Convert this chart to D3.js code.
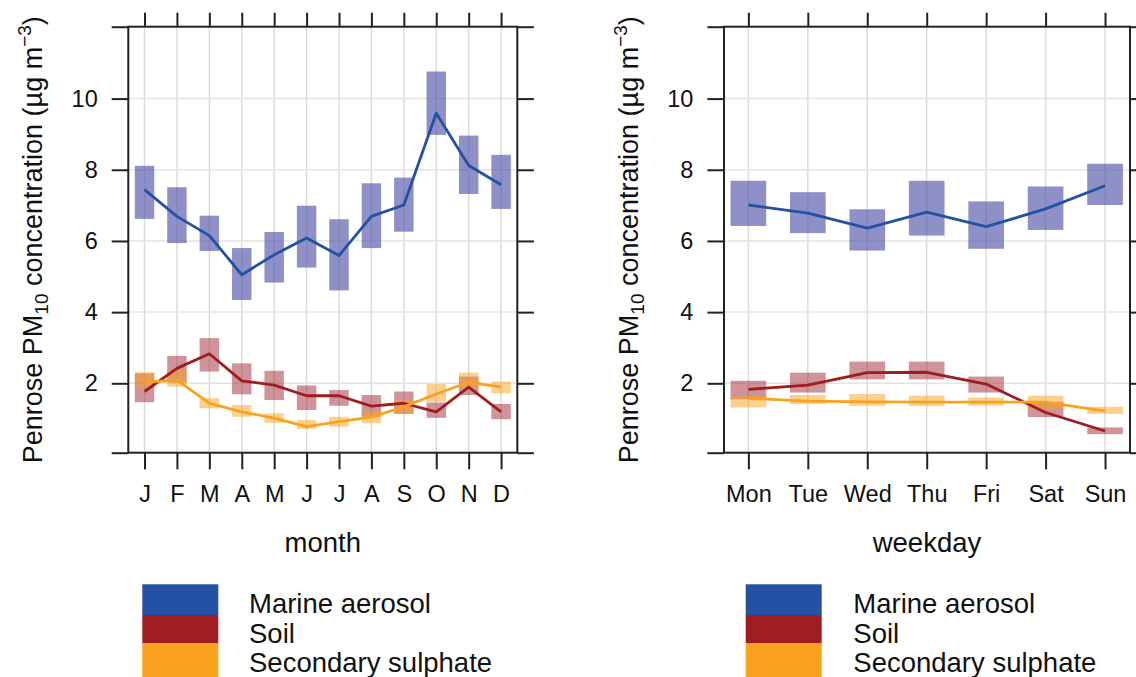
<!DOCTYPE html>
<html>
<head>
<meta charset="utf-8">
<script src="https://cdn.jsdelivr.net/npm/d3@7"></script>
<style>
  html, body { margin: 0; padding: 0; background: #fff; }
  svg { display: block; font-family: "Liberation Sans", Arial, sans-serif; }
</style>
</head>
<body>
<div id="chart"></div>
<script>
// categories
const months = ["J", "F", "M", "A", "M", "J", "J", "A", "S", "O", "N", "D"];
const weekdays = ["Mon", "Tue", "Wed", "Thu", "Fri", "Sat", "Sun"];
const seriesNames = ["Marine aerosol", "Soil", "Secondary sulphate"];
const yTicks = [2, 4, 6, 8, 10];

// [mean, lower, upper] per category
const marineMonth = [
  [7.44, 6.62, 8.11], [6.69, 5.94, 7.51], [6.15, 5.72, 6.71], [5.05, 4.34, 5.8],
  [5.61, 4.83, 6.25], [6.08, 5.25, 6.99], [5.59, 4.61, 6.61], [6.69, 5.8, 7.62],
  [7.01, 6.26, 7.78], [9.59, 8.98, 10.76], [8.12, 7.32, 8.96], [7.58, 6.9, 8.42],
];
const soilMonth = [
  [1.77, 1.47, 2.28], [2.42, 2.02, 2.77], [2.83, 2.33, 3.27], [2.07, 1.69, 2.56],
  [1.95, 1.53, 2.35], [1.65, 1.25, 1.94], [1.65, 1.37, 1.81], [1.36, 1.06, 1.67],
  [1.44, 1.14, 1.77], [1.2, 1.03, 1.46], [1.89, 1.67, 2.19], [1.2, 0.99, 1.42],
];
const sulphateMonth = [
  [2.03, 1.88, 2.31], [2.09, 1.91, 2.38], [1.44, 1.3, 1.58], [1.2, 1.06, 1.39],
  [1.02, 0.89, 1.16], [0.78, 0.72, 0.97], [0.92, 0.78, 1.06], [1.05, 0.88, 1.22],
  [1.34, 1.16, 1.53], [1.7, 1.48, 1.98], [2.03, 1.86, 2.3], [1.89, 1.72, 2.05],
];
const marineWeekday = [
  [7.01, 6.42, 7.69], [6.78, 6.22, 7.37], [6.36, 5.73, 6.89], [6.81, 6.15, 7.69],
  [6.4, 5.78, 7.11], [6.9, 6.31, 7.53], [7.55, 7.01, 8.17],
];
const soilWeekday = [
  [1.83, 1.55, 2.07], [1.95, 1.74, 2.3], [2.3, 2.11, 2.61], [2.31, 2.11, 2.61],
  [1.98, 1.74, 2.19], [1.18, 1.05, 1.48], [0.66, 0.57, 0.76],
];
const sulphateWeekday = [
  [1.58, 1.32, 1.64], [1.5, 1.42, 1.67], [1.48, 1.37, 1.7], [1.47, 1.36, 1.65],
  [1.47, 1.37, 1.6], [1.47, 1.25, 1.65], [1.22, 1.14, 1.34],
];

const lineColours = ["#2352a2", "#9f1c20", "#f9a21d"];
const legendColours = ["#2451a4", "#9f1c20", "#f9a21d"];
const boxColours = ["#5555aa", "#9f2a35", "#f9a21d"];
const boxOpacity = [0.65, 0.5, 0.5];

const width = 1136;
const height = 677;
const frameTop = 26.7;
const frameBottom = 452.7;
const ink = "#222";

const svg = d3
  .select("#chart")
  .append("svg")
  .attr("width", width)
  .attr("height", height);

function drawPanel({ left, right, xDomain, categories, series, xTitle, yTitleX, legendX, legendTextX }) {
  const x = d3.scaleLinear().domain(xDomain).range([left, right]);
  const y = d3.scaleLinear().domain([0.05, 12.02]).range([frameBottom, frameTop]);
  const idx = d3.range(1, categories.length + 1);
  const step = x(2) - x(1);
  const boxW = step * 0.6;

  const g = svg.append("g");

  // grid
  g.append("g")
    .selectAll("line")
    .data(idx)
    .join("line")
    .attr("x1", (d) => x(d))
    .attr("x2", (d) => x(d))
    .attr("y1", frameTop)
    .attr("y2", frameBottom)
    .attr("stroke", "#dcdcdc")
    .attr("stroke-width", 1.5);
  g.append("g")
    .selectAll("line")
    .data(yTicks)
    .join("line")
    .attr("x1", left)
    .attr("x2", right)
    .attr("y1", (d) => y(d))
    .attr("y2", (d) => y(d))
    .attr("stroke", "#e4e4e4")
    .attr("stroke-width", 1.5);

  // confidence boxes
  series.forEach((s, i) => {
    g.append("g")
      .selectAll("rect")
      .data(s)
      .join("rect")
      .attr("x", (d, j) => x(j + 1) - boxW / 2)
      .attr("width", boxW)
      .attr("y", (d) => y(d[2]))
      .attr("height", (d) => y(d[1]) - y(d[2]))
      .attr("fill", boxColours[i])
      .attr("fill-opacity", boxOpacity[i]);
  });

  const lineGen = d3
    .line()
    .x((d, j) => x(j + 1))
    .y((d) => y(d[0]));

  series.forEach((s, i) => {
    g.append("path")
      .datum(s)
      .attr("d", lineGen)
      .attr("fill", "none")
      .attr("stroke", lineColours[i])
      .attr("stroke-width", 2.8)
      .attr("stroke-linejoin", "round");
  });

  // frame
  g.append("rect")
    .attr("x", left)
    .attr("y", frameTop)
    .attr("width", right - left)
    .attr("height", frameBottom - frameTop)
    .attr("fill", "none")
    .attr("stroke", ink)
    .attr("stroke-width", 2);

  const yVals = [y.domain()[0], ...yTicks, y.domain()[1]];
  const styleAxis = (sel) => {
    sel.select(".domain").remove();
    sel.selectAll(".tick line").attr("stroke", ink).attr("stroke-width", 2);
    sel.selectAll("text").attr("fill", "#111");
  };

  g.append("g")
    .attr("transform", `translate(${left},0)`)
    .call(
      d3.axisLeft(y)
        .tickValues(yVals)
        .tickSize(16.6)
        .tickPadding(14)
        .tickFormat((d) => (yTicks.includes(d) ? d : "")),
    )
    .call(styleAxis)
    .selectAll("text")
    .style("font-size", "23.5px")
    .style("font-family", "Liberation Sans, Arial, sans-serif");

  g.append("g")
    .attr("transform", `translate(${right},0)`)
    .call(d3.axisRight(y).tickValues(yVals).tickSize(16.6).tickFormat(""))
    .call(styleAxis);

  g.append("g")
    .attr("transform", `translate(0,${frameTop})`)
    .call(d3.axisTop(x).tickValues(idx).tickSize(14).tickFormat(""))
    .call(styleAxis);

  g.append("g")
    .attr("transform", `translate(0,${frameBottom})`)
    .call(
      d3.axisBottom(x)
        .tickValues(idx)
        .tickSize(16.6)
        .tickFormat((d) => categories[d - 1]),
    )
    .call(styleAxis)
    .selectAll("text")
    .attr("y", 49)
    .attr("dy", null)
    .style("font-size", "23.5px")
    .style("font-family", "Liberation Sans, Arial, sans-serif");

  // axis titles
  svg.append("text")
    .attr("x", (left + right) / 2)
    .attr("y", 551.5)
    .attr("text-anchor", "middle")
    .style("font-size", "27.5px")
    .attr("fill", "#111")
    .text(xTitle);

  const yt = svg.append("text")
    .attr("transform", `translate(${yTitleX},${(frameTop + frameBottom) / 2}) rotate(-90)`)
    .attr("text-anchor", "middle")
    .style("font-size", "27px")
    .attr("fill", "#111");
  yt.append("tspan").text("Penrose PM");
  yt.append("tspan").attr("dy", 6).style("font-size", "19px").text("10");
  yt.append("tspan").attr("dy", -6).text(" concentration (µg m");
  yt.append("tspan").attr("dy", -11).style("font-size", "19px").text("−3");
  yt.append("tspan").attr("dy", 11).text(")");

  // legend
  const rowTop = [584.3, 615, 643.5];
  const rowBottom = [615, 643.5, 680];
  const baselines = [613.3, 642.7, 671.5];
  const lg = svg.append("g");
  seriesNames.forEach((name, i) => {
    lg.append("rect")
      .attr("x", legendX)
      .attr("y", rowTop[i])
      .attr("width", 76)
      .attr("height", rowBottom[i] - rowTop[i])
      .attr("fill", legendColours[i]);
    lg.append("text")
      .attr("x", legendTextX)
      .attr("y", baselines[i])
      .style("font-size", "27.5px")
      .attr("fill", "#111")
      .text(name);
  });
}

drawPanel({
  left: 128.3,
  right: 517.3,
  xDomain: [0.5, 12.5],
  categories: months,
  series: [marineMonth, soilMonth, sulphateMonth],
  xTitle: "month",
  yTitleX: 42,
  legendX: 142.3,
  legendTextX: 249,
});

drawPanel({
  left: 724,
  right: 1130,
  xDomain: [0.59, 7.42],
  categories: weekdays,
  series: [marineWeekday, soilWeekday, sulphateWeekday],
  xTitle: "weekday",
  yTitleX: 638,
  legendX: 745.7,
  legendTextX: 853.3,
});
</script>
</body>
</html>
